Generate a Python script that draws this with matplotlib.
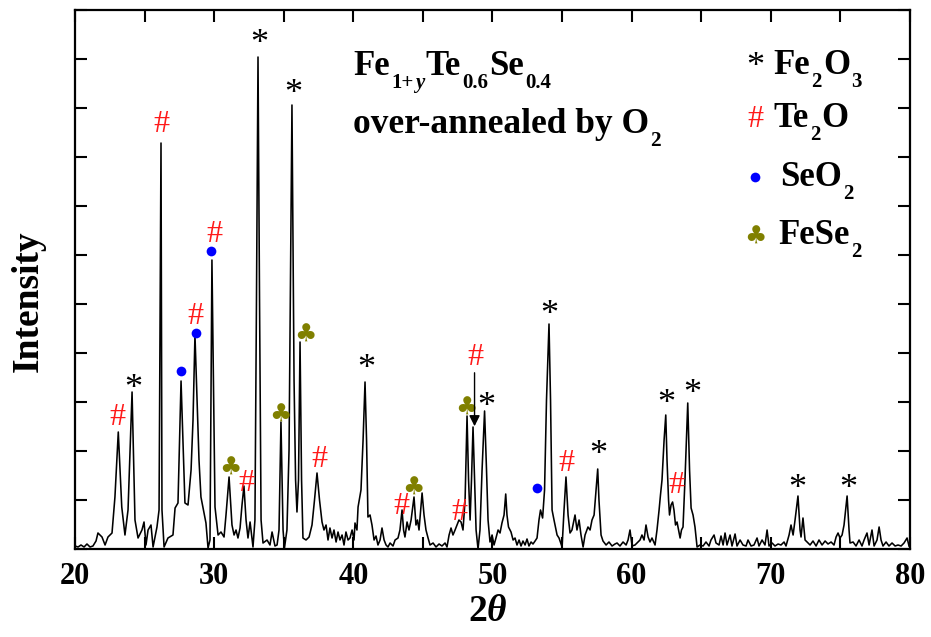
import matplotlib
matplotlib.use('Agg')
import matplotlib.pyplot as plt
import numpy as np
from matplotlib.textpath import TextPath
from matplotlib.font_manager import FontProperties

plt.rcParams['font.family'] = ['Liberation Serif', 'DejaVu Sans']
plt.rcParams['mathtext.fontset'] = 'custom'
plt.rcParams['mathtext.rm'] = 'Liberation Serif:bold'
plt.rcParams['mathtext.bf'] = 'Liberation Serif:bold'
plt.rcParams['mathtext.it'] = 'Liberation Serif:italic:bold'

# ---------------- data (2-theta in degrees, intensity in a.u.) ----------------
two_theta = [
    20.00, 20.22, 20.43, 20.65, 20.86, 21.08, 21.29, 21.51, 21.65, 21.94, 22.16, 22.37, 22.66, 22.87,
    23.11, 23.36, 23.59, 23.81, 24.10, 24.31, 24.53, 24.81, 24.96, 25.10, 25.25, 25.46, 25.61, 25.89,
    26.04, 26.18, 26.25, 26.40, 26.68, 27.04, 27.19, 27.40, 27.62, 27.90, 28.12, 28.34, 28.48, 28.62,
    28.77, 28.91, 29.05, 29.20, 29.41, 29.56, 29.70, 29.84, 30.06, 30.28, 30.49, 30.71, 30.85, 31.07,
    31.28, 31.43, 31.57, 31.71, 31.86, 32.00, 32.14, 32.29, 32.43, 32.58, 32.79, 32.93, 33.04, 33.15,
    33.26, 33.37, 33.51, 33.80, 34.01, 34.16, 34.37, 34.52, 34.66, 34.80, 34.95, 35.05, 35.23, 35.38,
    35.59, 35.74, 35.85, 35.95, 36.06, 36.17, 36.28, 36.38, 36.60, 36.82, 37.03, 37.21, 37.39, 37.57,
    37.75, 37.89, 38.04, 38.18, 38.32, 38.47, 38.61, 38.76, 38.90, 39.04, 39.19, 39.33, 39.47, 39.62,
    39.76, 39.91, 40.05, 40.12, 40.26, 40.34, 40.55, 40.70, 40.84, 40.95, 41.05, 41.20, 41.34, 41.49,
    41.63, 41.77, 41.92, 42.06, 42.21, 42.35, 42.49, 42.64, 42.85, 43.00, 43.21, 43.35, 43.50, 43.61,
    43.71, 43.86, 44.00, 44.15, 44.36, 44.50, 44.61, 44.72, 44.94, 45.08, 45.22, 45.37, 45.51, 45.73,
    45.94, 46.16, 46.37, 46.59, 46.73, 46.88, 47.02, 47.16, 47.31, 47.45, 47.59, 47.74, 47.88, 48.03,
    48.17, 48.28, 48.39, 48.49, 48.60, 48.71, 48.82, 48.96, 49.10, 49.25, 49.43, 49.57, 49.68, 49.82,
    49.97, 50.11, 50.25, 50.40, 50.54, 50.68, 50.83, 50.95, 51.04, 51.15, 51.33, 51.48, 51.62, 51.76,
    51.91, 52.05, 52.19, 52.34, 52.48, 52.62, 52.77, 52.91, 53.06, 53.20, 53.34, 53.45, 53.60, 53.74,
    53.88, 54.06, 54.17, 54.28, 54.42, 54.64, 54.78, 55.00, 55.14, 55.28, 55.43, 55.57, 55.71, 55.93,
    56.07, 56.22, 56.36, 56.51, 56.65, 56.86, 57.01, 57.15, 57.30, 57.44, 57.56, 57.65, 57.80, 57.94,
    58.16, 58.37, 58.59, 58.80, 58.95, 59.16, 59.38, 59.60, 59.74, 59.88, 60.03, 60.24, 60.60, 60.74,
    60.89, 61.03, 61.18, 61.32, 61.46, 61.68, 61.82, 61.97, 62.07, 62.18, 62.33, 62.45, 62.54, 62.65,
    62.72, 62.83, 62.94, 63.04, 63.15, 63.26, 63.37, 63.48, 63.58, 63.69, 63.83, 64.03, 64.16, 64.27,
    64.41, 64.55, 64.70, 64.91, 65.13, 65.34, 65.56, 65.70, 65.92, 66.06, 66.28, 66.42, 66.57, 66.71,
    66.85, 67.07, 67.21, 67.43, 67.57, 67.79, 68.00, 68.22, 68.36, 68.58, 68.79, 69.01, 69.15, 69.37,
    69.58, 69.73, 69.87, 70.09, 70.30, 70.52, 70.73, 70.95, 71.09, 71.31, 71.45, 71.60, 71.74, 71.95,
    72.10, 72.17, 72.31, 72.46, 72.60, 72.82, 73.03, 73.25, 73.46, 73.68, 73.90, 74.11, 74.33, 74.54,
    74.69, 74.83, 74.97, 75.12, 75.26, 75.48, 75.62, 75.69, 75.91, 76.12, 76.34, 76.55, 76.70, 76.91,
    77.06, 77.27, 77.42, 77.63, 77.78, 77.92, 78.06, 78.28, 78.49, 78.71, 78.93, 79.14, 79.36, 79.57,
    79.79, 79.93,
]
intensity = [
    3, 2, 4, 2, 5, 2, 3, 8, 16, 12, 4, 12, 16, 52,
    117, 42, 14, 39, 157, 29, 11, 19, 27, 4, 19, 24, 2, 22,
    39, 406, 39, 2, 11, 14, 41, 46, 168, 46, 44, 79, 129, 214,
    149, 89, 52, 41, 26, 1, 9, 289, 42, 14, 17, 12, 34, 72,
    24, 14, 19, 11, 21, 44, 63, 29, 11, 27, 2, 29, 249, 492,
    249, 29, 6, 9, 4, 17, 3, 4, 19, 127, 19, 1, 19, 99,
    444, 169, 69, 37, 69, 207, 69, 11, 9, 12, 24, 49, 76, 49,
    27, 19, 24, 9, 21, 11, 19, 7, 17, 9, 14, 4, 17, 9,
    11, 19, 9, 26, 19, 42, 59, 109, 167, 109, 32, 34, 24, 9,
    13, 4, 9, 21, 9, 4, 2, 6, 3, 9, 11, 19, 39, 19,
    12, 27, 19, 29, 52, 24, 29, 19, 56, 34, 19, 11, 4, 6,
    2, 5, 3, 6, 2, 14, 21, 14, 19, 24, 29, 27, 19, 49,
    133, 69, 29, 69, 122, 69, 19, 0, 19, 79, 138, 79, 29, 7,
    14, 4, 11, 19, 16, 26, 34, 55, 34, 22, 17, 9, 11, 4,
    9, 3, 8, 4, 10, 3, 7, 5, 8, 11, 29, 39, 31, 59,
    149, 225, 149, 39, 29, 14, 11, 2, 39, 72, 34, 16, 19, 34,
    19, 29, 14, 2, 14, 22, 19, 29, 34, 59, 80, 49, 14, 8,
    4, 7, 3, 5, 6, 3, 7, 4, 9, 19, 3, 4, 9, 14,
    9, 24, 12, 7, 11, 4, 19, 39, 54, 69, 109, 134, 89, 49,
    34, 44, 47, 39, 24, 27, 19, 11, 19, 22, 69, 146, 79, 41,
    34, 22, 2, 4, 3, 7, 3, 9, 14, 6, 4, 13, 4, 16,
    4, 14, 3, 15, 3, 9, 4, 3, 9, 3, 4, 11, 3, 9,
    4, 19, 3, 6, 3, 5, 4, 7, 3, 14, 24, 14, 29, 53,
    19, 12, 31, 9, 7, 4, 8, 3, 9, 4, 8, 5, 7, 4,
    12, 16, 11, 14, 24, 53, 19, 6, 7, 3, 9, 3, 9, 16,
    4, 19, 3, 9, 22, 9, 3, 7, 3, 6, 3, 4, 3, 6,
    11, 3,
]

# phase marker positions (2-theta, intensity of symbol centre)
fe2o3_x = [24.17, 33.22, 35.67, 40.91, 49.53, 54.06, 57.58, 62.47, 64.39, 71.88, 75.55]
fe2o3_y = [168, 513, 463, 188, 150, 242, 102, 153, 163, 68, 68]
te2o_x = [23.07, 26.23, 28.62, 29.99, 32.34, 37.53, 43.48, 47.59, 48.74, 55.33, 63.24]
te2o_y = [134, 427, 235, 317, 68, 92, 45, 39, 194, 88, 66]
seo2_x = [27.64, 28.67, 29.79, 53.20]
seo2_y = [178, 216, 298, 61]
fese2_x = [31.14, 34.75, 36.55, 44.29, 48.10]
fese2_y = [83, 136, 216, 63, 143]

arrow_x = 48.71
arrow_top, arrow_tip = 179, 120

xticks = [20, 30, 40, 50, 60, 70, 80]

# text pieces: (string, kind) kind: 'n' normal, 's' subscript, 'si' italic subscript
title_line1 = [('Fe', 'n'), ('1+', 's'), ('y', 'si'), ('Te', 'n'), ('0.6', 's'), ('Se', 'n'), ('0.4', 's')]
title_line2 = [('over-annealed by O', 'n'), ('2', 's')]
legend_rows = [
    [('Fe', 'n'), ('2', 's'), ('O', 'n'), ('3', 's')],
    [('Te', 'n'), ('2', 's'), ('O', 'n')],
    [('SeO', 'n'), ('2', 's')],
    [('FeSe', 'n'), ('2', 's')],
]

# ---------------- figure ----------------
DPI = 100
fig = plt.figure(figsize=(9.31, 6.37), dpi=DPI)
ax = fig.add_axes([75 / 931, 88 / 637, 835 / 931, 539 / 637])

ax.plot(two_theta, intensity, color='black', lw=1.15)
ax.set_xlim(20, 80)
ax.set_ylim(0, 539)

ax.set_xticks(xticks)
ax.set_xticks(np.arange(25, 80, 10), minor=True)
ax.set_yticks(np.arange(0, 540, 49))
ax.set_yticklabels([])
ax.tick_params(which='both', direction='in', top=True, right=True, length=8.5, width=1.5)
ax.tick_params(axis='x', pad=9, labelsize=22)
for lab in ax.get_xticklabels():
    lab.set_fontweight('bold')
for s in ax.spines.values():
    s.set_linewidth(1.6)

fig.text(28 / 931, 1 - 301 / 637, 'Intensity', rotation=90, ha='center', va='center',
         fontsize=27, fontweight='bold')
fig.text(488 / 931, 1 - 612 / 637, r'$\mathbf{2}\mathit{\theta}$', ha='center', va='center',
         fontsize=27)

renderer = fig.canvas.get_renderer()


def glyph(x, y, s, size, color, family, weight='normal'):
    fp = FontProperties(family=family, size=size, weight=weight)
    tp = TextPath((0, 0), s, size=1, prop=fp)
    bb = tp.get_extents()
    cx = (bb.x0 + bb.x1) / 2
    cy = (bb.y0 + bb.y1) / 2
    ax.annotate(s, (x, y), xytext=(-cx * size, -cy * size), textcoords='offset points',
                ha='left', va='baseline', color=color, fontproperties=fp)


def rich(x, y, parts, size=25.0, sub_scale=0.6, drop=9.5):
    off = 0.0
    for s, kind in parts:
        if kind == 'n':
            fp = FontProperties(family='Liberation Serif', weight='bold', size=size)
            dy = 0.0
        else:
            style = 'italic' if kind == 'si' else 'normal'
            fp = FontProperties(family='Liberation Serif', weight='bold', style=style,
                                size=size * sub_scale)
            dy = -drop
        t = ax.annotate(s, (x, y), xytext=(off, dy), textcoords='offset points',
                        ha='left', va='baseline', fontproperties=fp, color='black')
        w = t.get_window_extent(renderer).width * 72.0 / DPI
        off += w + 1.0


for x, y in zip(fe2o3_x, fe2o3_y):
    glyph(x, y, '*', 26, 'black', 'Liberation Serif')
for x, y in zip(te2o_x, te2o_y):
    glyph(x, y, '#', 23, '#ff1a1a', 'Liberation Serif')
for x, y in zip(fese2_x, fese2_y):
    glyph(x, y, '\u2663', 18, '#808000', 'DejaVu Sans')
ax.plot(seo2_x, seo2_y, 'o', color='#0000ff', ms=7, mec='none')

ax.annotate('', xy=(arrow_x, arrow_tip), xytext=(arrow_x, arrow_top),
            arrowprops=dict(arrowstyle='-|>', color='black', lw=1.0, mutation_scale=16))

# sample title
rich(39.98, 474, title_line1)
rich(39.98, 416, title_line2, size=25.5)

# legend
glyph(68.87, 490, '*', 26, 'black', 'Liberation Serif')
rich(70.16, 475, legend_rows[0])
glyph(68.87, 432, '#', 23, '#ff1a1a', 'Liberation Serif')
rich(70.16, 422, legend_rows[1])
ax.plot([68.87], [372], 'o', color='#0000ff', ms=7, mec='none')
rich(70.66, 363, legend_rows[2])
glyph(68.87, 314, '\u2663', 18, '#808000', 'DejaVu Sans')
rich(70.52, 305, legend_rows[3])

fig.savefig('out.png', dpi=DPI)
